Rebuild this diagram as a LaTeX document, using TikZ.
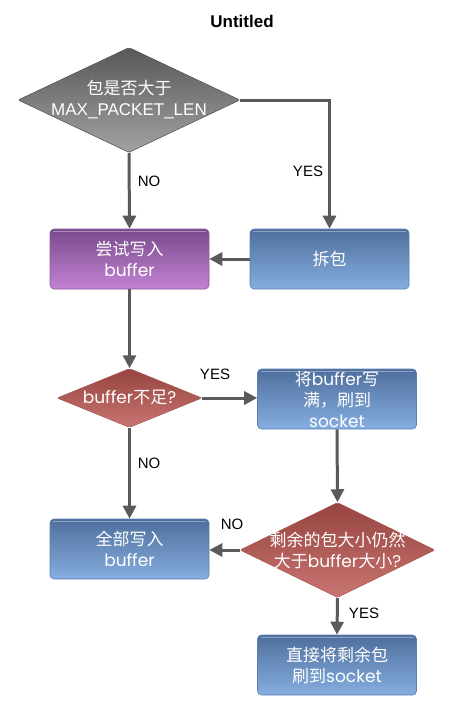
\documentclass[tikz,border=0pt]{standalone}
\usepackage{fontspec}
\setmainfont{Liberation Sans}
\newfontfamily\cjk{Noto Sans CJK SC}
\newfontfamily\geo{Poppins}
\usetikzlibrary{shapes.geometric,arrows.meta}
\definecolor{linec}{HTML}{5A5A5A}
\definecolor{graytop}{HTML}{585858}
\definecolor{graybot}{HTML}{A2A2A2}
\definecolor{purtop}{HTML}{7A4A8C}
\definecolor{purbot}{HTML}{C383D3}
\definecolor{purdraw}{HTML}{8A5A9C}
\definecolor{bluetop}{HTML}{4E6F9D}
\definecolor{bluebot}{HTML}{86AEE0}
\definecolor{bluedraw}{HTML}{5A7FAF}
\definecolor{redtop}{HTML}{964440}
\definecolor{redbot}{HTML}{C97572}
\definecolor{reddraw}{HTML}{A85550}
\begin{document}
\begin{tikzpicture}[x=1pt,y=-1pt,
  txt/.style={text=white, align=center, font=\fontsize{17}{21}\selectfont\cjk, inner sep=0pt},
  boxbase/.style={rectangle, rounded corners=4pt, minimum width=159pt, minimum height=60pt, line width=0.6pt,
    path picture={\draw[white, opacity=0.35, line width=1pt]
      ([xshift=3pt,yshift=-2.5pt]path picture bounding box.north west) --
      ([xshift=-3pt,yshift=-2.5pt]path picture bounding box.north east);}},
  bluebox/.style={boxbase, draw=bluedraw, top color=bluetop, bottom color=bluebot, txt},
  purbox/.style={boxbase, draw=purdraw, top color=purtop, bottom color=purbot, txt},
  dia/.style={diamond, inner sep=0pt, rounded corners=2pt, line width=0.5pt},
  graydia/.style={dia, draw=graytop!90!black, top color=graytop, bottom color=graybot},
  reddia/.style={dia, draw=reddraw, top color=redtop, bottom color=redbot},
  conn/.style={draw=linec, line width=3pt, -{Triangle[width=13pt,length=13pt]}},
  lbl/.style={font=\fontsize{15}{17}\selectfont, text=black, inner sep=0pt}
]
\useasboundingbox (0,0) rectangle (452,709);
\node[font=\bfseries\fontsize{17}{19}\selectfont] (title) at (242,21) {Untitled};

% diamonds
\node[graydia, minimum width=222pt, minimum height=105pt] (d1) at (129,100) {};
\node[txt] (d1t) at (129,99.5) {包是否大于\\{\rmfamily MAX\_PACKET\_LEN}};

\node[reddia, minimum width=145pt, minimum height=59pt] (d2) at (129.5,398) {};
\node[txt] (d2t) at (129.5,397) {{\geo buffer}不足{\geo ?}};

\node[reddia, minimum width=195pt, minimum height=95pt] (d3) at (337.5,550) {};
\node[txt] (d3t) at (337.5,550) {剩余的包大小仍然\\大于{\geo buffer}大小{\geo ?}};

% boxes
\node[purbox] (try) at (129.5,259) {尝试写入\\{\geo buffer}};
\node[bluebox] (split) at (329.5,259) {拆包};
\node[bluebox] (fill) at (337,399) {将{\geo buffer}写\\满，刷到\\{\geo socket}};
\node[bluebox] (all) at (129.5,549) {全部写入\\{\geo buffer}};
\node[bluebox] (direct) at (337,665) {直接将剩余包\\刷到{\geo socket}};

% connectors
\draw[conn] (d1.east) -| (split.north);
\draw[conn] (d1.south) -- (try.north);
\draw[conn] (split.west) -- (try.east);
\draw[conn] (try.south) -- (d2.north);
\draw[conn] (d2.east) -- (fill.west |- d2.east);
\draw[conn] (d2.south) -- (all.north);
\draw[conn] (fill.south) -- (d3.north);
\draw[conn] (d3.west) -- (d3.west -| all.east);
\draw[conn] (d3.south) -- (direct.north);

% labels
\node[lbl] (l1) at (308,171) {YES};
\node[lbl] (l2) at (149,181) {NO};
\node[lbl] (l3) at (215,374) {YES};
\node[lbl] (l4) at (149,463) {NO};
\node[lbl] (l5) at (232,524) {NO};
\node[lbl] (l6) at (364,613) {YES};
\end{tikzpicture}
\end{document}
